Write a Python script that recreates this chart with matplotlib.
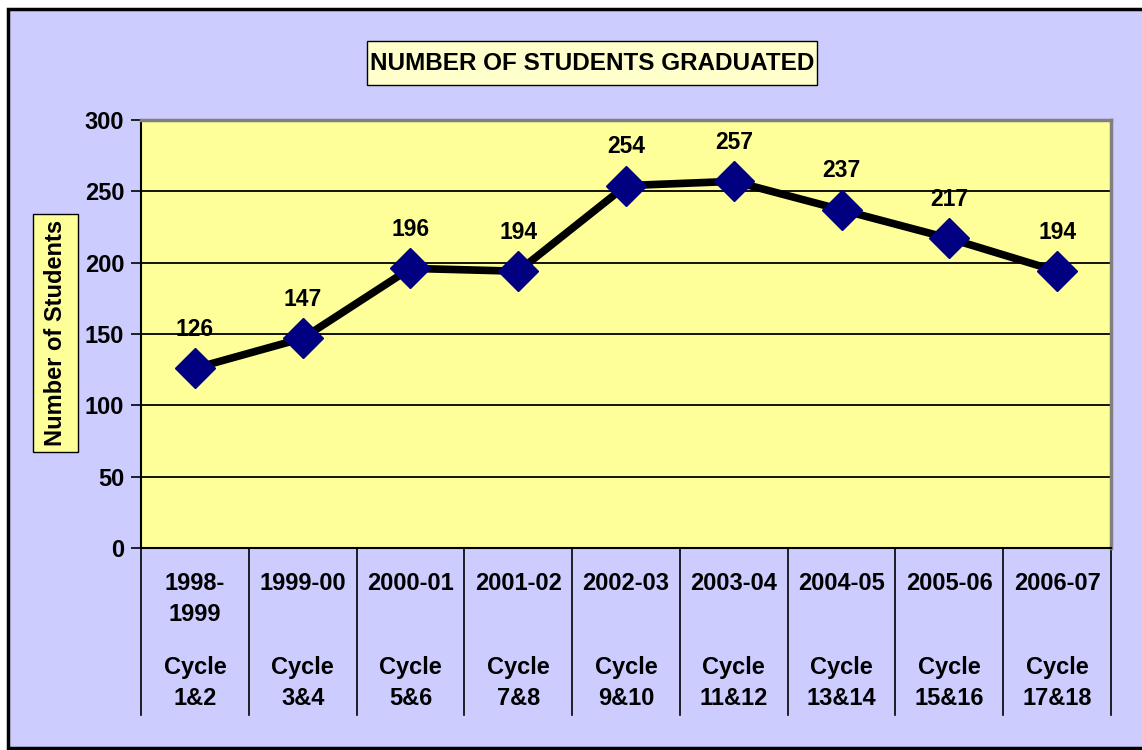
import matplotlib
matplotlib.use("Agg")
import matplotlib.pyplot as plt
from matplotlib.patches import Rectangle
from matplotlib.lines import Line2D
import matplotlib.transforms as mtransforms

plt.rcParams['font.family'] = ['Liberation Sans', 'DejaVu Sans']
plt.rcParams['font.weight'] = 'bold'

years = ["1998-\n1999", "1999-00", "2000-01", "2001-02", "2002-03",
         "2003-04", "2004-05", "2005-06", "2006-07"]
cycles = ["Cycle\n1&2", "Cycle\n3&4", "Cycle\n5&6", "Cycle\n7&8", "Cycle\n9&10",
          "Cycle\n11&12", "Cycle\n13&14", "Cycle\n15&16", "Cycle\n17&18"]
students = [126, 147, 196, 194, 254, 257, 237, 217, 194]
yticks = [0, 50, 100, 150, 200, 250, 300]

W, H = 1142, 750
FS = 17
fig = plt.figure(figsize=(W / 100, H / 100), dpi=100, facecolor='white')


def px_rect(x0, y0, x1, y1, **kw):
    """Rectangle given in figure pixel coords (origin top-left)."""
    return Rectangle((x0 / W, 1 - y1 / H), (x1 - x0) / W, (y1 - y0) / H,
                     transform=fig.transFigure, **kw)


# outer lavender frame
fig.patches.append(px_rect(7.5, 8.5, W + 20, 748, facecolor='#CCCCFF',
                           edgecolor='black', linewidth=2.5, zorder=-5))
# title box and y-label box
fig.patches.append(px_rect(367, 41, 817, 85, facecolor='#FFFFCC',
                           edgecolor='black', linewidth=1, zorder=-4))
fig.patches.append(px_rect(33, 214, 78, 452, facecolor='#FFFF99',
                           edgecolor='black', linewidth=1, zorder=-4))

L, R, T, B = 141, 1111, 120, 548
ax = fig.add_axes([L / W, 1 - B / H, (R - L) / W, (B - T) / H])
ax.set_facecolor('#FFFF99')
n = len(students)
x = list(range(n))
ax.set_xlim(-0.5, n - 0.5)
ax.set_ylim(0, 300)
ax.set_yticks(yticks)
ax.set_yticklabels([str(v) for v in yticks], fontsize=FS, fontweight='bold')
ax.tick_params(axis='y', direction='out', length=7, width=1.2, pad=5, color='black')
ax.set_xticks([])
for yv in yticks[1:-1]:
    ax.axhline(yv, color='black', linewidth=1.3, zorder=1)
ax.spines['left'].set_color('black')
ax.spines['left'].set_linewidth(1.5)
ax.spines['bottom'].set_color('black')
ax.spines['bottom'].set_linewidth(1.5)
ax.spines['top'].set_color('#808080')
ax.spines['top'].set_linewidth(2.5)
ax.spines['right'].set_color('#808080')
ax.spines['right'].set_linewidth(2.5)

ax.plot(x, students, color='black', linewidth=5.5, zorder=3, solid_capstyle='round')
ax.plot(x, students, linestyle='none', marker='D', markersize=20,
        markerfacecolor='#000080', markeredgecolor='#000080', zorder=4)

for xi, v in zip(x, students):
    ax.annotate(str(v), xy=(xi, v), xytext=(0, 39), textcoords='offset pixels',
                ha='center', va='center', fontsize=FS - 0.5, fontweight='bold', zorder=5)

# category separators and labels
blend = mtransforms.blended_transform_factory(ax.transData, ax.transAxes)
sep_bottom = -(715 - 548) / (B - T)
for k in range(n + 1):
    ax.add_line(Line2D([k - 0.5, k - 0.5], [0, sep_bottom], transform=blend,
                       color='black', linewidth=1.2, clip_on=False))
for xi, yr, cy in zip(x, years, cycles):
    ax.annotate(yr, xy=(xi, 0), xycoords=blend, xytext=(0, -24),
                textcoords='offset pixels', ha='center', va='top',
                fontsize=FS, fontweight='bold', linespacing=1.45, annotation_clip=False)
    ax.annotate(cy, xy=(xi, 0), xycoords=blend, xytext=(0, -108),
                textcoords='offset pixels', ha='center', va='top',
                fontsize=FS, fontweight='bold', linespacing=1.45, annotation_clip=False)

# title text
fig.text(592 / W, 1 - 63 / H, "NUMBER OF STUDENTS GRADUATED", ha='center', va='center',
         fontsize=FS + 0.5, fontweight='bold')

# y label text
fig.text(56 / W, 1 - 333 / H, "Number of Students", ha='center', va='center', rotation=90,
         fontsize=FS, fontweight='bold')

fig.savefig('out.png', dpi=100, facecolor='white')
